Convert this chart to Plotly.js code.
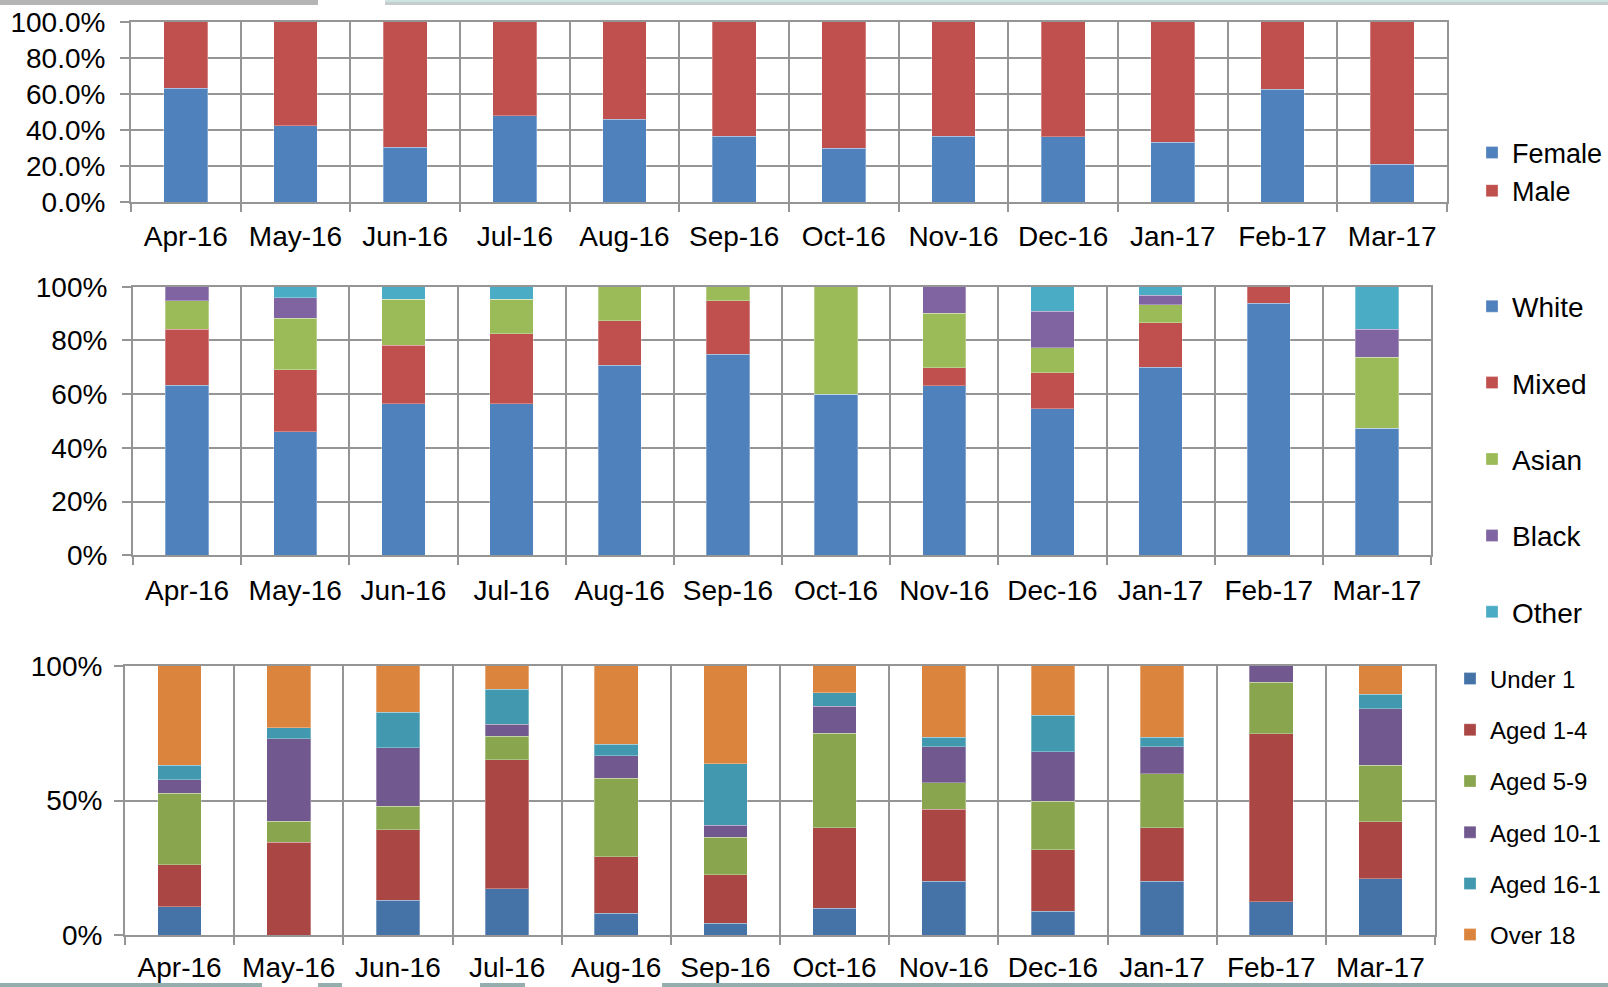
<!DOCTYPE html>
<html>
<head>
<meta charset="utf-8">
<script src="https://cdn.plot.ly/plotly-3.0.1.min.js"></script>
<style>
html,body{margin:0;padding:0;background:#fff;overflow:hidden;}
#chart{width:1608px;height:987px;}
</style>
</head>
<body>
<div id="chart"></div>
<script>
// ---- Data ----
const months = ['Apr-16','May-16','Jun-16','Jul-16','Aug-16','Sep-16','Oct-16','Nov-16','Dec-16','Jan-17','Feb-17','Mar-17'];

// Gender (%)
const female = [63.0,42.3,30.5,47.9,46.0,36.4,29.8,36.6,36.2,33.1,62.5,20.9];
const male   = [37.0,57.7,69.5,52.1,54.0,63.6,70.2,63.4,63.8,66.9,37.5,79.1];

// Ethnicity (%)
const white = [63.3,46.0,56.5,56.5,70.7,74.8,60.0,63.2,54.6,70.0,93.8,47.3];
const mixed = [20.8,23.1,21.7,26.0,16.6,20.0,0,6.7,13.4,16.6,6.2,0];
const asian = [10.6,19.2,17.2,12.9,12.7,5.2,40.0,20.2,9.2,6.7,0,26.4];
const black = [5.3,7.6,0,0,0,0,0,9.9,13.6,3.5,0,10.4];
const other = [0,4.1,4.6,4.6,0,0,0,0,9.2,3.2,0,15.9];

// Age (%)
const under1  = [10.5,0,13.0,17.3,8.2,4.4,10.0,20.0,9.0,20.0,12.4,20.9];
const aged1_4 = [15.7,34.6,26.2,47.8,21.0,18.1,29.9,26.7,22.8,19.9,62.4,21.2];
const aged5_9 = [26.5,7.7,8.6,8.8,29.1,13.8,35.0,9.9,18.0,20.0,19.0,20.9];
const aged10_15 = [5.0,30.6,21.8,4.3,8.3,4.5,10.0,13.4,18.3,10.1,6.2,21.1];
const aged16_17 = [5.3,4.0,13.1,13.0,4.2,22.9,5.1,3.4,13.6,3.4,0,5.4];
const over18  = [37.0,23.1,17.3,8.8,29.2,36.3,10.0,26.6,18.3,26.6,0,10.5];

const genderNames = ['Female','Male'];
const ethNames = ['White','Mixed','Asian','Black','Other'];
// legend labels as they appear (cut short at the slide edge) in the source
const ageNames = ['Under 1','Aged 1-4','Aged 5-9','Aged 10-1','Aged 16-1','Over 18'];

// ---- Styling ----
const W = 1608, H = 987;
const FONT = 'Liberation Sans, Arial, sans-serif';
const GRID = '#959595';
const c1 = ['#4F81BD','#C0504D','#9BBB59','#8064A2','#4BACC6'];
const c3 = ['#4572A7','#AA4643','#89A54E','#71588F','#4198AF','#DB843D'];

function xd(a,b){ return [a/W, b/W]; }
function yd(top,bottom){ return [1-bottom/H, 1-top/H]; }

function bar(name, y, color, xa, ya, leg, grp){
  return {type:'bar', name:name, x:months, y:y, xaxis:xa, yaxis:ya,
    marker:{color:color, line:{width:1, color:'rgba(255,255,255,0.3)'}}, legend:leg, legendgroup:grp,
    hoverinfo:'skip'};
}

const traces = [];
[female, male].forEach((s,i)=>traces.push(bar(genderNames[i], s, c1[i], 'x', 'y', 'legend', 'g'+i)));
[white, mixed, asian, black, other].forEach((s,i)=>traces.push(bar(ethNames[i], s, c1[i], 'x2', 'y2', 'legend2', 'e'+i)));
[under1, aged1_4, aged5_9, aged10_15, aged16_17, over18].forEach((s,i)=>traces.push(bar(ageNames[i], s, c3[i], 'x3', 'y3', 'legend3', 'a'+i)));

function xaxis(dom, anchor, standoff){
  return {domain:dom, anchor:anchor, type:'category', tickson:'boundaries',
    showgrid:true, gridcolor:GRID, gridwidth:2,
    showline:true, linecolor:GRID, linewidth:2, mirror:true,
    ticks:'outside', ticklen:8, tickcolor:GRID, tickwidth:2,
    ticklabelstandoff:standoff,
    tickfont:{family:FONT, size:28, color:'#000'}, fixedrange:true};
}
function yaxis(dom, anchor, dtick, fmt, standoff){
  return {domain:dom, anchor:anchor, range:[0,100], tickmode:'linear', tick0:0, dtick:dtick,
    ticksuffix:'%', tickformat:fmt,
    showgrid:true, gridcolor:GRID, gridwidth:2, zeroline:false,
    showline:true, linecolor:GRID, linewidth:2, mirror:true,
    ticks:'outside', ticklen:9, tickcolor:GRID, tickwidth:2,
    ticklabelstandoff:standoff,
    tickfont:{family:FONT, size:28, color:'#000'}, fixedrange:true};
}

function legend(x, yc, size, gap){
  return {x:x/W, y:1-yc/H, xanchor:'left', yanchor:'middle', traceorder:'grouped',
    bgcolor:'rgba(0,0,0,0)', borderwidth:0, tracegroupgap:gap,
    font:{family:FONT, size:size, color:'#000'}};
}

const shapes = [
  // top slide decoration
  {type:'rect', xref:'paper', yref:'paper', x0:0, x1:318/W, y0:1-5/H, y1:1, fillcolor:'#b5b5b5', line:{width:0}, layer:'below'},
  {type:'rect', xref:'paper', yref:'paper', x0:385/W, x1:1, y0:1-5/H, y1:1, fillcolor:'#c4cccc', line:{width:0}, layer:'below'},
  {type:'rect', xref:'paper', yref:'paper', x0:385/W, x1:1, y0:1-2/H, y1:1, fillcolor:'#cfe3e3', line:{width:0}, layer:'below'},
  // bottom slide decoration
  {type:'rect', xref:'paper', yref:'paper', x0:0, x1:262/W, y0:0, y1:4/H, fillcolor:'#94adad', line:{width:0}, layer:'below'},
  {type:'rect', xref:'paper', yref:'paper', x0:318/W, x1:342/W, y0:0, y1:4/H, fillcolor:'#94adad', line:{width:0}, layer:'below'},
  {type:'rect', xref:'paper', yref:'paper', x0:480/W, x1:525/W, y0:0, y1:4/H, fillcolor:'#94adad', line:{width:0}, layer:'below'},
  {type:'rect', xref:'paper', yref:'paper', x0:662/W, x1:1, y0:0, y1:4/H, fillcolor:'#94adad', line:{width:0}, layer:'below'}
];

const layout = {
  width:W, height:H, margin:{l:0,r:0,t:0,b:0,pad:0,autoexpand:false},
  paper_bgcolor:'#fff', plot_bgcolor:'#fff',
  barmode:'stack', bargap:0.6, showlegend:true,
  font:{family:FONT, color:'#000'},
  xaxis: xaxis(xd(131,1447), 'y', 8),
  yaxis: yaxis(yd(21.7,202), 'x', 20, '.1f', 9),
  xaxis2: xaxis(xd(133,1431), 'y2', 9),
  yaxis2: yaxis(yd(286.7,555.3), 'x2', 20, 'd', 9),
  xaxis3: xaxis(xd(125,1435), 'y3', 6),
  yaxis3: yaxis(yd(665.7,935.3), 'x3', 50, 'd', 6),
  legend: legend(1472, 172, 27, 0),
  legend2: legend(1472, 459, 28, 37),
  legend3: legend(1450, 807, 24, 17),
  shapes: shapes
};

Plotly.newPlot('chart', traces, layout, {displayModeBar:false, staticPlot:true});
</script>
</body>
</html>
